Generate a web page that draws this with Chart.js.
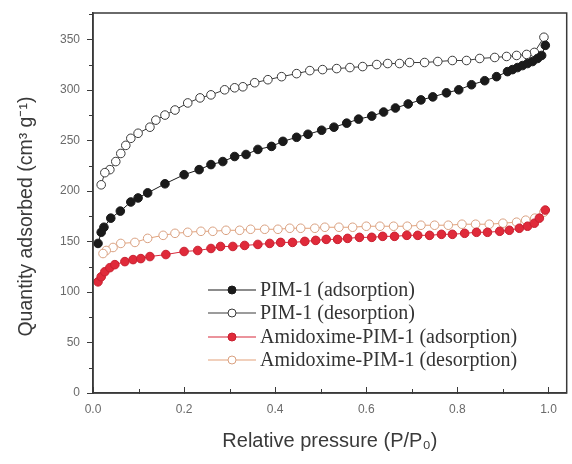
<!DOCTYPE html>
<html>
<head>
<meta charset="utf-8">
<script src="https://cdn.jsdelivr.net/npm/chart.js@4.4.1/dist/chart.umd.min.js"></script>
<style>
html,body{margin:0;padding:0;background:#fff;}
#wrap{width:572px;height:464px;position:relative;}
</style>
</head>
<body>
<div id="wrap"><canvas id="c" width="572" height="464"></canvas></div>
<script>
// ---- data ----
const seriesNames = ["PIM-1 (adsorption)", "PIM-1 (desorption)", "Amidoxime-PIM-1 (adsorption)", "Amidoxime-PIM-1 (desorption)"];

const pimAdsX = [0.011,0.018,0.024,0.039,0.06,0.083,0.099,0.12,0.158,0.20,0.233,0.259,0.285,0.311,0.336,0.362,0.392,0.417,0.447,0.472,0.502,0.529,0.557,0.583,0.612,0.638,0.664,0.692,0.72,0.746,0.776,0.803,0.831,0.86,0.886,0.91,0.921,0.932,0.943,0.954,0.965,0.976,0.985,0.993];
const pimAdsY = [148,159,164,173,180,189,193,198,207,216,221,226,229,234,236,241,244,249,253,256,260,263,267,271,274,278,282,286,290,293,297,300,305,309,313,318,320,322,324,326,328,331,334,344];

const pimDesX = [0.99,0.969,0.952,0.93,0.908,0.882,0.849,0.82,0.789,0.757,0.728,0.695,0.673,0.647,0.623,0.592,0.564,0.535,0.504,0.476,0.447,0.414,0.384,0.355,0.329,0.311,0.289,0.259,0.235,0.208,0.18,0.158,0.138,0.125,0.099,0.083,0.072,0.061,0.05,0.037,0.026,0.018];
const pimDesY = [352,337,335,334,333,332,331,329,329,328,327,327,326,326,325,323,322,321,320,319,316,313,310,307,303,302,300,295,292,287,280,275,270,263,257,252,245,237,229,221,218,206];

const amiAdsX = [0.011,0.018,0.026,0.037,0.048,0.07,0.088,0.105,0.125,0.16,0.2,0.23,0.259,0.28,0.307,0.333,0.362,0.388,0.412,0.438,0.465,0.489,0.512,0.537,0.559,0.585,0.612,0.636,0.662,0.689,0.713,0.739,0.765,0.789,0.816,0.842,0.866,0.893,0.914,0.936,0.954,0.969,0.98,0.993];
const amiAdsY = [110,115,120,124,127,130,132,133,135,137,140,141,143,145,145,146,147,148,149,149,150,151,152,152,153,154,154,155,155,156,156,156,157,157,158,159,159,160,161,163,165,168,173,181];

const amiDesX = [0.99,0.97,0.95,0.93,0.9,0.87,0.84,0.81,0.78,0.75,0.72,0.69,0.66,0.63,0.6,0.57,0.54,0.509,0.487,0.456,0.432,0.406,0.377,0.346,0.322,0.292,0.263,0.237,0.208,0.18,0.154,0.12,0.092,0.061,0.044,0.029,0.022];
const amiDesY = [179,173,171,169,168,167,167,167,166,166,166,165,165,165,165,164,164,164,163,163,163,162,162,162,161,161,160,160,159,158,156,153,149,148,144,141,138];

const xTicks = [0, 0.2, 0.4, 0.6, 0.8, 1.0];
const yTicks = [0, 50, 100, 150, 200, 250, 300, 350];

function pts(xs, ys){ return xs.map((x,i)=>({x:x, y:ys[i]})); }

const AXIS = '#3a3a3a';
const LABEL = '#6a6a6a';

const frameTicks = {
  id:'frameTicks',
  afterDraw(chart){
    const {ctx, chartArea:a, scales} = chart;
    ctx.save();
    ctx.strokeStyle = AXIS;
    ctx.lineWidth = 1.5;
    ctx.strokeRect(a.left, a.top, a.right-a.left, a.bottom-a.top);
    ctx.lineWidth = 1;
    const xs = scales.x;
    for (let k=0; k<=10; k++){
      const v = k/10;
      const p = Math.round(xs.getPixelForValue(v))+0.5;
      const major = k%2===0;
      ctx.beginPath();
      ctx.moveTo(p, a.bottom+1);
      ctx.lineTo(p, a.bottom-(major?6:4));
      ctx.stroke();
    }
    const ys = scales.y;
    for (let v=0; v<=375; v+=25){
      const p = Math.round(ys.getPixelForValue(v))+0.5;
      const major = v%50===0;
      ctx.beginPath();
      ctx.moveTo(a.left, p);
      ctx.lineTo(a.left-(major?6:4), p);
      ctx.stroke();
    }
    ctx.restore();
  }
};

const legendPlugin = {
  id:'customLegend',
  afterDatasetsDraw(chart){
    const ctx = chart.ctx;
    const x0 = 208, x1 = 256, tx = 260;
    const rows = [290, 313, 337, 360];
    ctx.save();
    chart.data.datasets.forEach((ds,i)=>{
      const y = rows[i];
      ctx.strokeStyle = ds.borderColor;
      ctx.lineWidth = 1.2;
      ctx.beginPath(); ctx.moveTo(x0,y); ctx.lineTo(x1,y); ctx.stroke();
      ctx.beginPath(); ctx.arc((x0+x1)/2, y, 4, 0, Math.PI*2);
      ctx.fillStyle = ds.pointBackgroundColor; ctx.fill();
      ctx.strokeStyle = ds.pointBorderColor; ctx.lineWidth = 1; ctx.stroke();
      ctx.fillStyle = '#333';
      ctx.font = '20px "Liberation Serif", serif';
      ctx.textBaseline = 'middle';
      ctx.fillText(seriesNames[i], tx, y+1);
    });
    ctx.restore();
  }
};

new Chart(document.getElementById('c'), {
  type:'scatter',
  data:{
    datasets:[
      {label:seriesNames[0], data:pts(pimAdsX,pimAdsY), showLine:true, borderColor:'#1a1a1a', borderWidth:1, pointBackgroundColor:'#1a1a1a', pointBorderColor:'#1a1a1a', pointRadius:4.3, pointBorderWidth:1},
      {label:seriesNames[1], data:pts(pimDesX,pimDesY), showLine:true, borderColor:'#3a3a3a', borderWidth:1, pointBackgroundColor:'#ffffff', pointBorderColor:'#3a3a3a', pointRadius:4.3, pointBorderWidth:1},
      {label:seriesNames[2], data:pts(amiAdsX,amiAdsY), showLine:true, borderColor:'#d8283a', borderWidth:1, pointBackgroundColor:'#e02a3a', pointBorderColor:'#c82030', pointRadius:4.3, pointBorderWidth:1},
      {label:seriesNames[3], data:pts(amiDesX,amiDesY), showLine:true, borderColor:'#e3a27a', borderWidth:1, pointBackgroundColor:'#ffffff', pointBorderColor:'#d9a080', pointRadius:4.3, pointBorderWidth:1}
    ]
  },
  options:{
    responsive:false,
    animation:false,
    layout:{padding:{top:13, right:5, left:0, bottom:0}},
    plugins:{legend:{display:false}, tooltip:{enabled:false}},
    scales:{
      x:{
        type:'linear', min:0, max:1.04,
        afterBuildTicks(s){ s.ticks = xTicks.map(v=>({value:v})); },
        afterFit(s){ s.height = 71; s.paddingLeft = 0; s.paddingRight = 0; },
        grid:{display:true, drawOnChartArea:false, drawTicks:false},
        border:{display:true, color:AXIS, width:1.5},
        ticks:{color:LABEL, font:{family:'"Liberation Sans", Arial, sans-serif', size:12}, padding:9, callback:v=>v.toFixed(1), maxRotation:0},
        title:{display:true, text:'Relative pressure (P/P\u2080)', color:'#3a3a3a', font:{family:'"Liberation Sans", Arial, sans-serif', size:20}, padding:{top:10, bottom:11}}
      },
      y:{
        type:'linear', min:0, max:376,
        afterBuildTicks(s){ s.ticks = yTicks.map(v=>({value:v})); },
        afterFit(s){ s.width = 93; s.paddingTop = 0; s.paddingBottom = 0; },
        grid:{display:true, drawOnChartArea:false, drawTicks:false},
        border:{display:true, color:AXIS, width:1.5},
        ticks:{color:LABEL, font:{family:'"Liberation Sans", Arial, sans-serif', size:12}, padding:13},
        title:{display:true, text:'Quantity adsorbed (cm\u00b3 g\u207b\u00b9)\u00a0\u00a0\u00a0\u00a0\u00a0', color:'#3a3a3a', font:{family:'"Liberation Sans", Arial, sans-serif', size:19.5}, padding:{top:15, bottom:4}}
      }
    }
  },
  plugins:[frameTicks, legendPlugin]
});
</script>
</body>
</html>
